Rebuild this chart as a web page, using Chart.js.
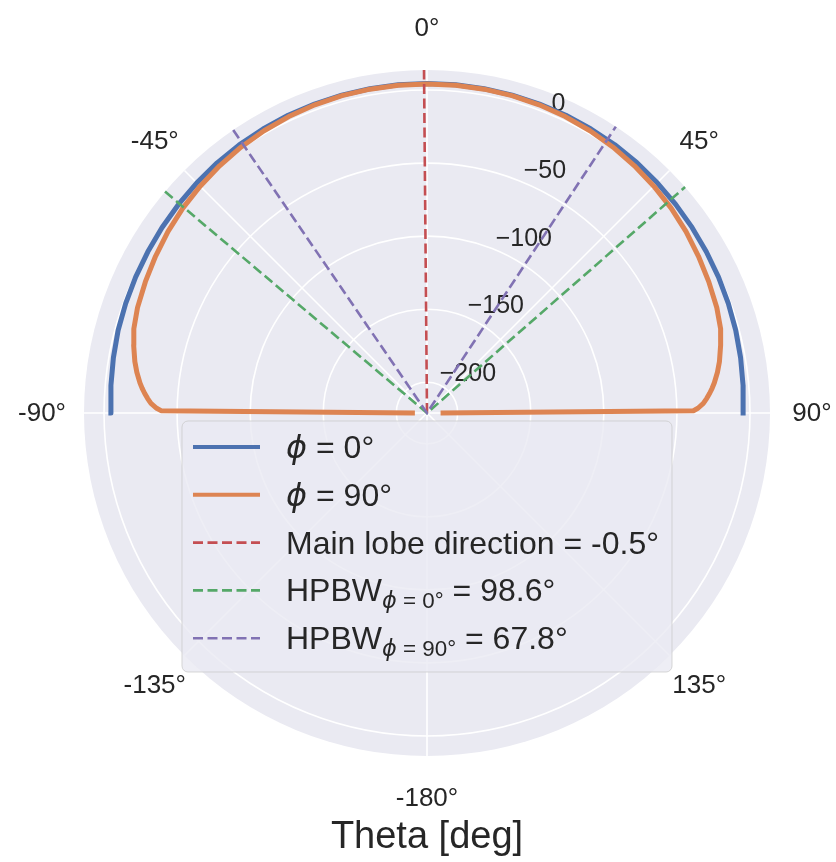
<!DOCTYPE html>
<html lang="en">
<head>
<meta charset="UTF-8" />
<title>Radiation pattern</title>
<script src="https://cdn.jsdelivr.net/npm/chart.js"></script>
<style>
  body { margin: 0; background: #ffffff; }
  canvas { display: block; }
</style>
</head>
<body>
<canvas id="patternChart" width="836" height="862"></canvas>
<script>
// theta [deg] and gain [dB]
const thetaPhi0 = [-90, -85, -80, -75, -70, -65, -60, -55, -50, -45, -40, -35, -30, -25, -20, -15, -10, -5, 0,
  5, 10, 15, 20, 25, 30, 35, 40, 45, 50, 55, 60, 65, 70, 75, 80, 85, 90];
const gainPhi0 = [-4.7, -3.9, -3.1, -2.2, -1.6, -1.0, -0.4, 0.3, 1.0, 1.7, 2.4, 3.0, 3.4, 3.8, 4.0, 4.2, 4.3, 4.4, 4.4,
  4.4, 4.3, 4.2, 4.0, 3.8, 3.4, 3.1, 2.5, 1.8, 1.1, 0.4, -0.3, -0.9, -1.6, -2.3, -3.1, -3.9, -4.7];

const thetaPhi90 = [-90, -89.5, -89, -88, -87, -86, -85, -84, -82, -80, -77, -74, -70, -65, -60, -55, -50, -45, -40,
  -35, -30, -25, -20, -15, -10, -5, 0, 5, 10, 15, 20, 25, 30, 35, 40, 45, 50, 55, 60, 65, 70, 74, 77, 80, 82,
  84, 85, 86, 87, 88, 89, 89.5, 90];
const gainPhi90 = [-211, -39, -36, -32, -29.5, -27.3, -25.3, -23.5, -20.5, -18, -15, -12.3, -10.2, -8.4, -6.5, -4.6, -2.9, -1.5, -0.2,
  1.0, 2.0, 2.8, 3.4, 3.8, 4.0, 4.1, 4.1, 4.1, 4.0, 3.8, 3.4, 2.8, 2.0, 1.0, -0.2, -1.5, -2.9, -4.6, -6.5, -8.3, -10.0, -12.0, -14.8, -17.8, -20.3,
  -23.3, -25.1, -27.1, -29.3, -31.8, -35.6, -38.7, -210];

const mainLobeTheta = -0.5;
const hpbwPhi0 = 98.6;
const hpbwPhi90 = 67.8;

const rTicks = [0, -50, -100, -150, -200];
const thetaTicks = [0, 45, 90, 135, 180, 225, 270, 315];
const thetaTickLabels = ['0°', '45°', '90°', '135°', '-180°', '-135°', '-90°', '-45°'];
const rMin = -221;
const rMax = 13.7;

const span = rMax - rMin;
const textColor = '#262626';

// polar (theta from top, clockwise) -> x/y in radius units
function polar(theta, g) {
  const r = g - rMin;
  const a = theta * Math.PI / 180;
  return { x: r * Math.sin(a), y: r * Math.cos(a) };
}

const polarGrid = {
  id: 'polarGrid',
  beforeDatasetsDraw(chart) {
    const ctx = chart.ctx;
    const xs = chart.scales.x, ys = chart.scales.y;
    const cx = xs.getPixelForValue(0), cy = ys.getPixelForValue(0);
    const rad = v => xs.getPixelForValue(v - rMin) - cx;
    const R = rad(rMax);
    ctx.save();
    ctx.fillStyle = '#EAEAF2';
    ctx.beginPath();
    ctx.arc(cx, cy, R, 0, Math.PI * 2);
    ctx.fill();

    ctx.strokeStyle = '#ffffff';
    ctx.lineWidth = 1.6;
    rTicks.forEach(t => {
      ctx.beginPath();
      ctx.arc(cx, cy, rad(t), 0, Math.PI * 2);
      ctx.stroke();
    });
    thetaTicks.forEach(t => {
      const a = t * Math.PI / 180;
      ctx.beginPath();
      ctx.moveTo(cx, cy);
      ctx.lineTo(cx + R * Math.sin(a), cy - R * Math.cos(a));
      ctx.stroke();
    });

    // radial tick labels along 22.5 deg
    ctx.fillStyle = textColor;
    ctx.font = '25px "Liberation Sans", Arial, sans-serif';
    ctx.textAlign = 'left';
    ctx.textBaseline = 'alphabetic';
    const la = 22.5 * Math.PI / 180;
    rTicks.forEach(t => {
      const r = rad(t);
      const txt = String(t).replace('-', '\u2212');
      ctx.fillText(txt, cx + r * Math.sin(la) + 1, cy - r * Math.cos(la) - 4);
    });

    // angle labels
    ctx.font = '26px "Liberation Sans", Arial, sans-serif';
    ctx.textAlign = 'center';
    ctx.textBaseline = 'middle';
    thetaTicks.forEach((t, i) => {
      const a = t * Math.PI / 180;
      ctx.fillText(thetaTickLabels[i], cx + (R + 42) * Math.sin(a), cy - (R + 42) * Math.cos(a) + 1);
    });

    ctx.font = '38px "Liberation Sans", Arial, sans-serif';
    ctx.fillText('Theta [deg]', cx, cy + R + 82);
    ctx.restore();
  }
};

function drawRich(ctx, str, x, y, size) {
  const parts = str.split(/(_\{[^}]*\})/).filter(Boolean);
  parts.forEach(p => {
    const sub = p.startsWith('_{');
    const txt = sub ? p.slice(2, -1) : p;
    const fs = sub ? size * 0.7 : size;
    const dy = sub ? size * 0.22 : 0;
    txt.split(/(ϕ)/).filter(Boolean).forEach(seg => {
      ctx.font = seg === 'ϕ' ? `italic ${fs}px "DejaVu Sans"` : `${fs}px "Liberation Sans", Arial, sans-serif`;
      ctx.fillText(seg, x, y + dy);
      x += ctx.measureText(seg).width;
    });
  });
}

const mathLegend = {
  id: 'mathLegend',
  afterDatasetsDraw(chart) {
    const ctx = chart.ctx;
    const cx = chart.scales.x.getPixelForValue(0);
    const cy = chart.scales.y.getPixelForValue(0);
    const left = cx - 245, top = cy + 8, w = 490, h = 251;
    ctx.save();
    ctx.fillStyle = 'rgba(234,234,242,0.8)';
    ctx.strokeStyle = 'rgba(204,204,204,0.8)';
    ctx.lineWidth = 1;
    ctx.beginPath();
    ctx.roundRect(left, top, w, h, 6);
    ctx.fill();
    ctx.stroke();

    ctx.textAlign = 'left';
    ctx.textBaseline = 'alphabetic';
    chart.data.datasets.forEach((ds, i) => {
      const yc = top + 26 + i * 47.8;
      ctx.strokeStyle = ds.borderColor;
      ctx.lineWidth = ds.borderDash ? 2.6 : 4;
      ctx.setLineDash(ds.borderDash || []);
      ctx.lineCap = 'butt';
      ctx.beginPath();
      ctx.moveTo(left + 11, yc);
      ctx.lineTo(left + 78, yc);
      ctx.stroke();
      ctx.setLineDash([]);
      ctx.fillStyle = textColor;
      drawRich(ctx, ds.label, left + 104, yc + 11, 32);
    });
    ctx.restore();
  }
};

const dash = [10, 4.5];
const ms = [{ t: mainLobeTheta, g: rMin }, { t: mainLobeTheta, g: rMax }];
const hp0 = [{ t: mainLobeTheta - hpbwPhi0 / 2, g: rMax }, { t: 0, g: rMin }, { t: mainLobeTheta + hpbwPhi0 / 2, g: rMax }];
const hp90 = [{ t: mainLobeTheta - hpbwPhi90 / 2, g: rMax }, { t: 0, g: rMin }, { t: mainLobeTheta + hpbwPhi90 / 2, g: rMax }];

new Chart(document.getElementById('patternChart'), {
  type: 'scatter',
  data: {
    datasets: [
      { label: 'ϕ = 0°', data: thetaPhi0.map((t, i) => polar(t, gainPhi0[i])),
        borderColor: '#4C72B0', borderWidth: 5, order: 5, borderCapStyle: 'square', borderJoinStyle: 'round' },
      { label: 'ϕ = 90°', data: thetaPhi90.map((t, i) => polar(t, gainPhi90[i])),
        borderColor: '#DD8452', borderWidth: 5, order: 4, borderCapStyle: 'square', borderJoinStyle: 'round' },
      { label: `Main lobe direction = ${mainLobeTheta}°`, data: ms.map(p => polar(p.t, p.g)),
        borderColor: '#C44E52', borderWidth: 2.6, borderDash: dash, order: 3 },
      { label: `HPBW_{ϕ = 0°} = ${hpbwPhi0}°`, data: hp0.map(p => polar(p.t, p.g)),
        borderColor: '#55A868', borderWidth: 2.6, borderDash: dash, order: 2 },
      { label: `HPBW_{ϕ = 90°} = ${hpbwPhi90}°`, data: hp90.map(p => polar(p.t, p.g)),
        borderColor: '#8172B3', borderWidth: 2.6, borderDash: dash, order: 1 }
    ]
  },
  options: {
    responsive: false,
    animation: false,
    devicePixelRatio: 1,
    events: [],
    layout: { padding: { left: 84, right: 66, top: 70, bottom: 106 } },
    datasets: { scatter: { showLine: true, pointRadius: 0, fill: false, tension: 0, clip: false } },
    scales: {
      x: { type: 'linear', min: -span, max: span, display: false },
      y: { type: 'linear', min: -span, max: span, display: false }
    },
    plugins: { legend: { display: false }, tooltip: { enabled: false } }
  },
  plugins: [polarGrid, mathLegend]
});
</script>
</body>
</html>
